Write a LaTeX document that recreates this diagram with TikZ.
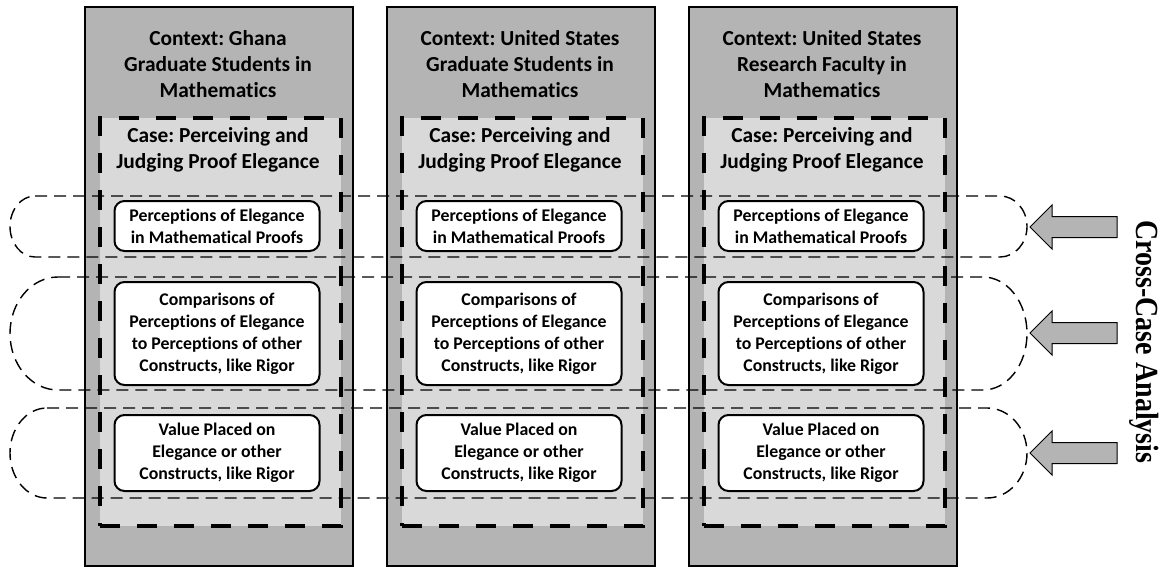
\documentclass[tikz,border=0pt]{standalone}
\usepackage{fontspec}
\setmainfont{Carlito}[Ligatures={NoCommon}]
\newfontfamily\serifb{Liberation Serif}
\frenchspacing
\definecolor{ctxgray}{RGB}{180,180,180}
\definecolor{casegray}{RGB}{217,217,217}
\newcommand{\caseloop}[6]{% #1 xl, #2 xr, #3 top, #4 bot, #5 rl, #6 rr
  \pgfmathsetmacro{\ym}{(#3+#4)/2}
  \pgfmathsetmacro{\ka}{0.5523*(#4-#3)/2}
  \draw[loopline] ({#1+#5},#3) -- ({#2-#6},#3)
    .. controls ({#2-#6+0.5523*#6},#3) and (#2,{\ym-\ka}) .. (#2,\ym)
    .. controls (#2,{\ym+\ka}) and ({#2-#6+0.5523*#6},#4) .. ({#2-#6},#4)
    -- ({#1+#5},#4)
    .. controls ({#1+#5-0.5523*#5},#4) and (#1,{\ym+\ka}) .. (#1,\ym)
    .. controls (#1,{\ym-\ka}) and ({#1+#5-0.5523*#5},#3) .. cycle;
}
\newcommand{\cmparrow}[1]{%
  \draw[blockarrow] (1117,{#1-10.5}) -- (1052,{#1-10.5}) -- (1052,{#1-22}) -- (1030,#1)
    -- (1052,{#1+22}) -- (1052,{#1+10.5}) -- (1117,{#1+10.5}) -- cycle;
}
\tikzset{
  outer/.style={draw=black, line width=2pt, fill=ctxgray, minimum width=268pt, minimum height=559pt, inner sep=0pt, anchor=north west},
  casebox/.style={draw=black, line width=4pt, dash pattern=on 20pt off 17pt, fill=casegray, minimum width=241pt, minimum height=408pt, inner sep=0pt, anchor=north west},
  titletxt/.style={font=\fontsize{21.4}{26}\selectfont\bfseries, align=center, text=black},
  item/.style={draw=black, line width=2pt, fill=white, rounded corners=10pt, minimum width=205pt, align=center, inner sep=0pt, font=\fontsize{17.8}{22}\selectfont\bfseries, text=black},
  loopline/.style={draw=black, line width=1.4pt, dash pattern=on 12pt off 7pt},
  blockarrow/.style={draw=black, line width=1pt, fill=ctxgray},
}
\begin{document}
\begin{tikzpicture}[x=1pt, y=-1pt]
\useasboundingbox (0,0) rectangle (1165,567);
\foreach \i/\x/\t in {1/84/{Context: Ghana\\Graduate Students in\\Mathematics},
                      2/386/{Context: United States\\Graduate Students in\\Mathematics},
                      3/688/{Context: United States\\Research Faculty in\\Mathematics}}{
  \node[outer] (col\i) at (\x,6) {};
  \node[titletxt] (title\i) at ({\x+134},64) {\t};
  \node[casebox] (case\i) at ({\x+14},116) {};
  \node[titletxt] (lbl\i) at ({\x+134},150) {Case: Perceiving and\\Judging Proof Elegance};
  \node[item, minimum height=50pt] (pa\i) at ({\x+133},226) {Perceptions of Elegance\\in Mathematical Proofs};
  \node[item, minimum height=103pt] (pb\i) at ({\x+133},333.5) {Comparisons of\\Perceptions of Elegance\\to Perceptions of other\\Constructs, like Rigor};
  \node[item, minimum height=76pt] (pc\i) at ({\x+133},453) {Value Placed on\\Elegance or other\\Constructs, like Rigor};
}
\caseloop{10}{1027}{196}{257}{25}{27}
\caseloop{10}{1027}{277}{390}{48}{44}
\caseloop{10}{1027}{408}{498}{37}{40}
\cmparrow{227}
\cmparrow{333}
\cmparrow{453}
\node[rotate=-90, font=\serifb\fontsize{28}{30}\selectfont\bfseries] (cca) at (1144,342) {\scalebox{1}[1.15]{Cross-Case Analysis}};
\end{tikzpicture}
\end{document}
